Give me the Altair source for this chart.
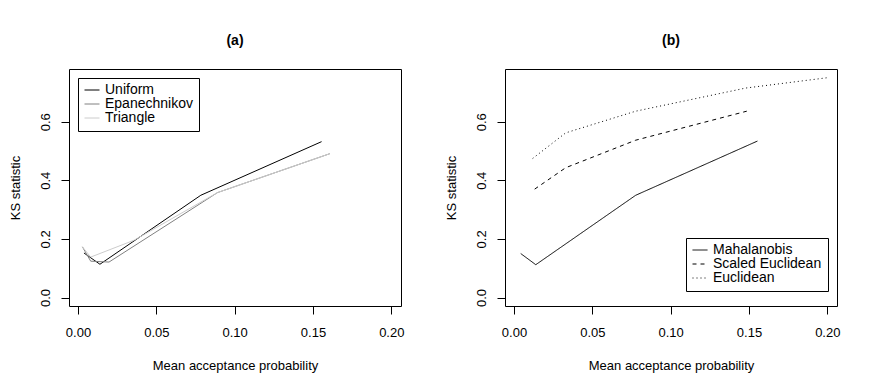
import altair as alt
import pandas as pd

# ---- Panel (a): kernels ----
uniform_x = [0.0038, 0.0140, 0.0784, 0.1555]
uniform_y = [0.152, 0.1135, 0.349, 0.532]
epan_x = [0.0028, 0.0081, 0.0198, 0.0890, 0.1608]
epan_y = [0.173, 0.124, 0.121, 0.358, 0.491]
tri_x = [0.0028, 0.0081, 0.0358, 0.0890, 0.1608]
tri_y = [0.173, 0.138, 0.1955, 0.358, 0.491]

# ---- Panel (b): distances ----
maha_x = [0.0043, 0.0139, 0.0777, 0.1554]
maha_y = [0.150, 0.112, 0.349, 0.534]
seuc_x = [0.0132, 0.0330, 0.0777, 0.1486]
seuc_y = [0.370, 0.443, 0.537, 0.636]
euc_x = [0.0119, 0.0330, 0.0777, 0.1480, 0.1997]
euc_y = [0.4745, 0.562, 0.636, 0.715, 0.750]

kernels = ["Uniform", "Epanechnikov", "Triangle"]
kernel_colors = ["#000000", "#808080", "#cccccc"]
distances = ["Mahalanobis", "Scaled Euclidean", "Euclidean"]
distance_dash = [[1, 0], [4, 4], [1, 3]]

x_ticks = [0.0, 0.05, 0.10, 0.15, 0.20]
y_ticks = [0.0, 0.2, 0.4, 0.6]


def build(names, xs_list, ys_list, key):
    rows = []
    for name, xs, ys in zip(names, xs_list, ys_list):
        for i, (xv, yv) in enumerate(zip(xs, ys)):
            rows.append({key: name, "x": xv, "y": yv, "i": i})
    return pd.DataFrame(rows)


dfa = build(kernels, [uniform_x, epan_x, tri_x], [uniform_y, epan_y, tri_y], "kernel")
dfb = build(distances, [maha_x, seuc_x, euc_x], [maha_y, seuc_y, euc_y], "distance")

FONT = "Liberation Sans"

xs = alt.Scale(domain=[-0.00575, 0.2062], nice=False, zero=False)
ys = alt.Scale(domain=[-0.029, 0.780], nice=False, zero=False)

xaxis = alt.Axis(values=x_ticks, format=".2f", title="Mean acceptance probability",
                 tickSize=8, domain=False, grid=False, labelPadding=12, titlePadding=20,
                 labelFlush=False)
yaxis = alt.Axis(values=y_ticks, format=".1f", title="KS statistic", labelAngle=-90,
                 tickSize=8, domain=False, grid=False, labelPadding=9, titlePadding=17)

W, H = 332, 237


def legend(x, y):
    return alt.Legend(orient="none", legendX=x, legendY=y, title=None,
                      strokeColor="black", fillColor="white", padding=6,
                      symbolType="stroke", symbolSize=225, symbolStrokeWidth=1,
                      labelFontSize=14, labelFont=FONT, labelColor="black",
                      rowPadding=0, clipHeight=12, labelOffset=5)


a = alt.Chart(dfa).mark_line(strokeWidth=1).encode(
    x=alt.X("x:Q", scale=xs, axis=xaxis),
    y=alt.Y("y:Q", scale=ys, axis=yaxis),
    color=alt.Color("kernel:N", scale=alt.Scale(domain=kernels, range=kernel_colors),
                    sort=kernels, legend=legend(9, 9)),
    order=alt.Order("i:Q"),
).properties(width=W, height=H,
             title=alt.TitleParams("(a)", fontSize=14, fontWeight="bold", font=FONT,
                                   anchor="middle", frame="group", offset=21))

b = alt.Chart(dfb).mark_line(strokeWidth=1, color="black").encode(
    x=alt.X("x:Q", scale=xs, axis=xaxis),
    y=alt.Y("y:Q", scale=ys, axis=yaxis),
    strokeDash=alt.StrokeDash("distance:N",
                              scale=alt.Scale(domain=distances, range=distance_dash),
                              sort=distances, legend=legend(617, 169)),
    order=alt.Order("i:Q"),
).properties(width=W, height=H,
             title=alt.TitleParams("(b)", fontSize=14, fontWeight="bold", font=FONT,
                                   anchor="middle", frame="group", offset=21))

chart = alt.hconcat(a, b, spacing=104, bounds="flush").properties(
    padding={"left": 0, "top": 25, "right": 5, "bottom": 5}
).configure_view(stroke="black", strokeWidth=1).configure_axis(
    labelFont=FONT, titleFont=FONT, labelFontSize=13, titleFontSize=13,
    labelColor="black", titleColor="black", tickColor="black",
    titleFontWeight="normal"
).configure_legend(symbolStrokeColor="black")

chart.save("out.html", embed_options={"renderer": "svg", "actions": False})
